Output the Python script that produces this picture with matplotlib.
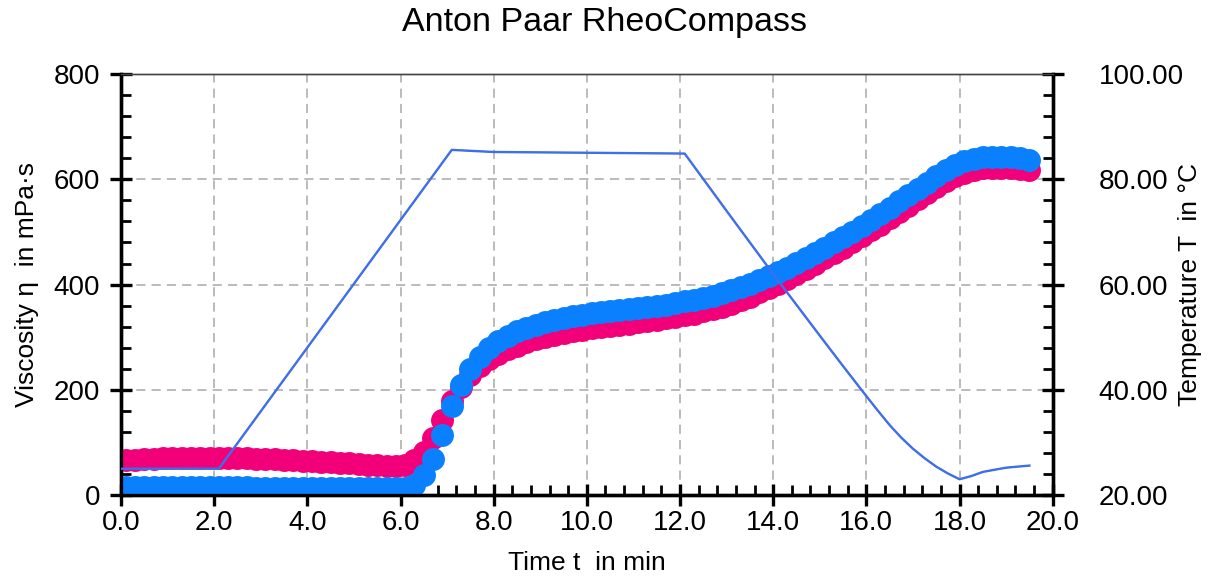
import matplotlib
matplotlib.use("Agg")
import matplotlib.pyplot as plt
from matplotlib.ticker import MultipleLocator, FormatStrFormatter

plt.rcParams['font.family'] = ['Liberation Sans', 'DejaVu Sans']

# DATA
time_min = [
    0.1, 0.3, 0.5, 0.7, 0.9, 1.1, 1.3, 1.5, 1.7, 1.9,
    2.1, 2.3, 2.5, 2.7, 2.9, 3.1, 3.3, 3.5, 3.7, 3.9,
    4.1, 4.3, 4.5, 4.7, 4.9, 5.1, 5.3, 5.5, 5.7, 5.9,
    6.1, 6.3, 6.5, 6.7, 6.9, 7.1, 7.3, 7.5, 7.7, 7.9,
    8.1, 8.3, 8.5, 8.7, 8.9, 9.1, 9.3, 9.5, 9.7, 9.9,
    10.1, 10.3, 10.5, 10.7, 10.9, 11.1, 11.3, 11.5, 11.7, 11.9,
    12.1, 12.3, 12.5, 12.7, 12.9, 13.1, 13.3, 13.5, 13.7, 13.9,
    14.1, 14.3, 14.5, 14.7, 14.9, 15.1, 15.3, 15.5, 15.7, 15.9,
    16.1, 16.3, 16.5, 16.7, 16.9, 17.1, 17.3, 17.5, 17.7, 17.9,
    18.1, 18.3, 18.5, 18.7, 18.9, 19.1, 19.3, 19.5,
]
visc_pink = [
    66, 67, 68, 69, 70, 70, 71, 71, 71, 71,
    71, 71, 70, 70, 69, 68, 68, 67, 66, 65,
    64, 63, 62, 61, 60, 59, 58, 57, 56, 56,
    58, 66, 82, 108, 142, 178, 205, 228, 245, 258,
    268, 277, 284, 290, 296, 300, 304, 308, 311, 314,
    317, 319, 322, 324, 326, 328, 331, 333, 336, 339,
    342, 345, 349, 353, 358, 364, 370, 377, 385, 393,
    402, 411, 420, 430, 440, 450, 460, 470, 481, 492,
    503, 514, 526, 538, 550, 562, 574, 586, 597, 606,
    613, 618, 621, 622, 622, 621, 620, 618,
]
visc_blue = [
    15, 15, 15, 15, 15, 15, 15, 15, 15, 15,
    15, 15, 15, 15, 14, 14, 14, 14, 14, 14,
    14, 14, 14, 13, 13, 13, 13, 13, 13, 13,
    14, 20, 38, 68, 115, 170, 210, 240, 262, 280,
    293, 303, 311, 318, 324, 329, 333, 337, 340, 343,
    346, 348, 350, 352, 354, 356, 358, 360, 362, 365,
    368, 371, 375, 379, 384, 389, 395, 401, 408, 416,
    424, 432, 441, 450, 460, 470, 480, 490, 500, 511,
    522, 534, 546, 558, 570, 582, 594, 606, 617, 627,
    634, 639, 642, 643, 643, 642, 640, 637,
]
temp_time = [0.0, 2.1, 7.1, 8.0, 12.1, 13.0, 14.0, 15.0, 15.5, 16.0, 16.25, 16.5,
             16.75, 17.0, 17.25, 17.5, 17.75, 18.0, 18.25, 18.5, 19.0, 19.5]
temp_c = [25.0, 25.0, 85.6, 85.2, 84.9, 74.0, 62.0, 50.3, 44.5, 38.8, 36.0, 33.3,
          30.9, 28.8, 27.0, 25.4, 24.1, 23.0, 23.6, 24.4, 25.2, 25.6]

PINK = "#f2007a"
BLUE = "#0a80ff"
TLINE = "#3d6fe8"

fig = plt.figure(figsize=(12.1, 5.79), dpi=100)
ax = fig.add_axes([0.1, 0.145, 0.77, 0.727])
ax2 = ax.twinx()

ax.plot(time_min, visc_pink, "o", color=PINK, ms=16.5, mec="none", zorder=3)
ax.plot(time_min, visc_blue, "o", color=BLUE, ms=16.5, mec="none", zorder=4)

ax2.plot(temp_time, temp_c, color=PINK, lw=0.8, zorder=3)
ax2.plot(temp_time, temp_c, color=TLINE, lw=1.7, zorder=4)

ax.set_xlim(0, 20)
ax.set_ylim(0, 800)
ax2.set_ylim(20, 100)

ax.xaxis.set_major_locator(MultipleLocator(2))
ax.xaxis.set_minor_locator(MultipleLocator(0.4))
ax.xaxis.set_major_formatter(FormatStrFormatter("%.1f"))
ax.yaxis.set_major_locator(MultipleLocator(200))
ax.yaxis.set_minor_locator(MultipleLocator(40))
ax2.yaxis.set_major_locator(MultipleLocator(20))
ax2.yaxis.set_minor_locator(MultipleLocator(4))
ax2.yaxis.set_major_formatter(FormatStrFormatter("%.2f"))

ax.grid(True, which="major", color="#a8a8a8", linestyle=(0, (6, 4)), linewidth=1.1)

# spines
for a in (ax, ax2):
    for side in ("left", "bottom", "right"):
        a.spines[side].set_linewidth(2.4)
    a.spines["top"].set_linewidth(1.0)
    a.spines["top"].set_color("#444444")

ax.tick_params(axis="x", which="major", direction="inout", length=16, width=2.4,
               labelsize=20, pad=3, top=False)
ax.tick_params(axis="x", which="minor", direction="in", length=7, width=2, top=False)
ax.tick_params(axis="y", which="major", direction="inout", length=16, width=2.4,
               labelsize=20, pad=7, right=False)
ax.tick_params(axis="y", which="minor", direction="in", length=7, width=2, right=False)
ax2.tick_params(axis="y", which="major", direction="inout", length=16, width=2.4,
                labelsize=20, pad=25)
ax2.tick_params(axis="y", which="minor", direction="in", length=7, width=2)

ax.set_xlabel("Time t  in min", fontsize=19)
ax.set_ylabel("Viscosity η  in mPa·s", fontsize=19)
ax2.set_ylabel("Temperature T  in °C", fontsize=19)
ax.xaxis.set_label_coords(0.5, -0.133)
ax.yaxis.set_label_coords(-0.088, 0.5)
ax2.yaxis.set_label_coords(1.134, 0.5)

fig.suptitle("Anton Paar RheoCompass", fontsize=24.5, y=0.962, va="center")

fig.savefig("out.png", dpi=100)
